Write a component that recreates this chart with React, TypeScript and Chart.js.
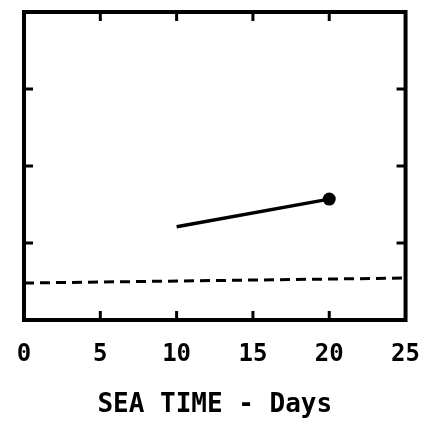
import React, { useEffect, useRef } from "react";
import { Chart, registerables } from "chart.js";

Chart.register(...registerables);

const xTickValues = [0, 5, 10, 15, 20, 25];
const yTickValues = [1, 2, 3];
const solidX = [10, 20];
const solidY = [1.21, 1.57];
const dashedX = [0, 25];
const dashedY = [0.48, 0.545];
const xTitle = "SEA TIME - Days";

const FONT = "'DejaVu Sans Mono', monospace";

const frame = {
  id: "frame",
  afterDraw(chart: any) {
    const { ctx, chartArea } = chart;
    const xs = chart.scales.x;
    const ys = chart.scales.y;
    const { left, right, top, bottom } = chartArea;
    ctx.save();
    ctx.strokeStyle = "#000";
    ctx.lineWidth = 4;
    ctx.strokeRect(left, top, right - left, bottom - top);
    ctx.lineWidth = 3;
    const len = 9;
    xTickValues.slice(1, -1).forEach((v) => {
      const px = xs.getPixelForValue(v);
      ctx.beginPath();
      ctx.moveTo(px, top);
      ctx.lineTo(px, top + len);
      ctx.moveTo(px, bottom);
      ctx.lineTo(px, bottom - len);
      ctx.stroke();
    });
    yTickValues.forEach((v) => {
      const py = ys.getPixelForValue(v);
      ctx.beginPath();
      ctx.moveTo(left, py);
      ctx.lineTo(left + len, py);
      ctx.moveTo(right, py);
      ctx.lineTo(right - len, py);
      ctx.stroke();
    });
    ctx.restore();
  },
};

export default function App() {
  const ref = useRef<HTMLCanvasElement | null>(null);
  useEffect(() => {
    if (!ref.current) return;
    const chart = new Chart(ref.current, {
      type: "scatter",
      data: {
        datasets: [
          {
            data: solidX.map((x, i) => ({ x, y: solidY[i] })),
            showLine: true,
            borderColor: "#000",
            backgroundColor: "#000",
            borderWidth: 3.5,
            pointRadius: [0, 6.5],
            pointBorderWidth: 0,
          },
          {
            data: dashedX.map((x, i) => ({ x, y: dashedY[i] })),
            showLine: true,
            borderColor: "#000",
            borderWidth: 3,
            borderDash: [10, 6],
            pointRadius: 0,
          },
        ],
      },
      options: {
        animation: false,
        responsive: false,
        plugins: { legend: { display: false }, tooltip: { enabled: false } },
        layout: { padding: { left: 24, right: 0, top: 12, bottom: 5 } },
        scales: {
          x: {
            type: "linear",
            min: 0,
            max: 25,
            afterBuildTicks: (s: any) => {
              s.ticks = xTickValues.map((v) => ({ value: v }));
            },
            grid: {
              display: true,
              drawOnChartArea: false,
              drawTicks: true,
              tickLength: 17,
              color: "rgba(0,0,0,0)",
            },
            border: { display: false },
            ticks: {
              color: "#000",
              padding: 3,
              font: { family: FONT, size: 24, weight: "bold" },
            },
            title: {
              display: true,
              text: xTitle,
              color: "#000",
              padding: { top: 18, bottom: 0 },
              font: { family: FONT, size: 26, weight: "bold" },
            },
          },
          y: {
            type: "linear",
            min: 0,
            max: 4,
            display: false,
          },
        },
      },
      plugins: [frame],
    });
    return () => chart.destroy();
  }, []);
  return (
    <div style={{ position: "absolute", left: 0, top: 0, width: 423, height: 426, background: "#fff" }}>
      <canvas ref={ref} width={423} height={426} style={{ display: "block" }} />
    </div>
  );
}
